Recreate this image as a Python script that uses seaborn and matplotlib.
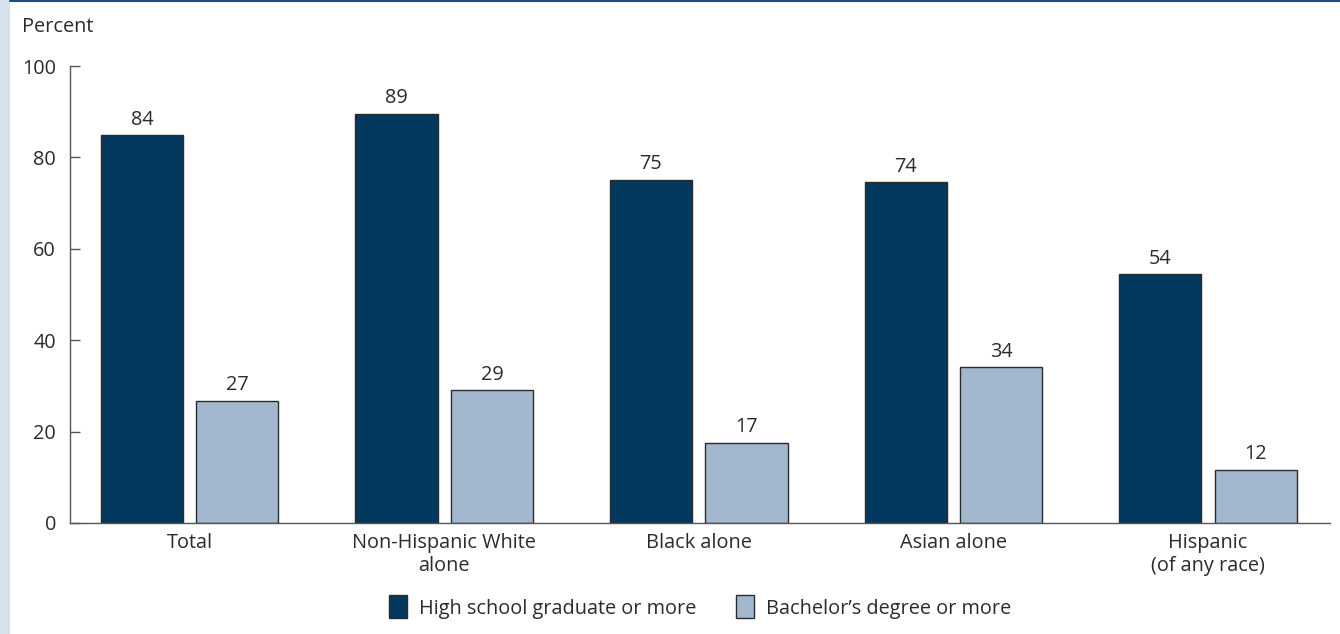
import matplotlib
matplotlib.use("Agg")
import matplotlib.pyplot as plt
import seaborn as sns
import pandas as pd
from matplotlib.patches import Rectangle, Patch
from matplotlib.lines import Line2D

categories = ["Total", "Non-Hispanic White\nalone", "Black alone", "Asian alone", "Hispanic\n(of any race)"]
series = ["High school graduate or more", "Bachelor\u2019s degree or more"]
hs_values = [84.8, 89.6, 75.1, 74.6, 54.4]
ba_values = [26.8, 29.0, 17.5, 34.1, 11.6]
hs_labels = ["84", "89", "75", "74", "54"]
ba_labels = ["27", "29", "17", "34", "12"]
yticks = [0, 20, 40, 60, 80, 100]

colors = ["#02375e", "#a3b8ce"]
text_color = "#2b2b2b"
fs = 14.3

sns.set_theme(style="white")
plt.rcParams["font.family"] = ["Open Sans", "DejaVu Sans"]

df = pd.DataFrame({
    "category": categories * 2,
    "series": [series[0]] * 5 + [series[1]] * 5,
    "value": hs_values + ba_values,
})

fig = plt.figure(figsize=(13.4, 6.34), dpi=100)
ax = fig.add_axes([70 / 1340, 1 - 523 / 634, (1330 - 70) / 1340, (523 - 66) / 634])

sns.barplot(data=df, x="category", y="value", hue="series", order=categories,
            hue_order=series, palette=colors, width=0.75, gap=0.14,
            edgecolor="#2b2b2b", linewidth=1.0, saturation=1, ax=ax, legend=False)

for cont, labs in zip(ax.containers, [hs_labels, ba_labels]):
    ax.bar_label(cont, labels=labs, padding=4, fontsize=fs, color=text_color)

ax.set_xlim(-0.47, 4.48)
ax.set_ylim(0, 100)
ax.set_yticks(yticks)
ax.set_xlabel("")
ax.set_ylabel("")
for s in ["top", "right"]:
    ax.spines[s].set_visible(False)
for s in ["left", "bottom"]:
    ax.spines[s].set_color("#555555")
    ax.spines[s].set_linewidth(1.0)
ax.tick_params(axis="y", direction="in", length=7, width=1, color="#555555",
               labelsize=fs, labelcolor=text_color, pad=10, left=True)
ax.tick_params(axis="x", length=0, labelsize=fs, labelcolor=text_color, pad=7)

fig.text(22 / 1340, 1 - 27 / 634, "Percent", fontsize=fs, color=text_color, va="center", ha="left")

# decorative frame: left strip and top rule
fig.add_artist(Rectangle((0, 0), 10 / 1340, 1, transform=fig.transFigure,
                         facecolor="#d6e1eb", edgecolor="none"))
fig.add_artist(Line2D([10 / 1340, 1], [1 - 1 / 634, 1 - 1 / 634], transform=fig.transFigure,
                      color="#1f4e79", linewidth=1.5))

handles = [Patch(facecolor=c, edgecolor="#2b2b2b", linewidth=1.0) for c in colors]
fig.legend(handles, series, loc="center", bbox_to_anchor=(700 / 1340, 1 - 607 / 634),
           ncol=2, frameon=False, fontsize=fs, handlelength=0.9, handleheight=1.4,
           handletextpad=0.6, columnspacing=2.0, labelcolor=text_color)

fig.savefig("out.png", dpi=100, facecolor="white")
